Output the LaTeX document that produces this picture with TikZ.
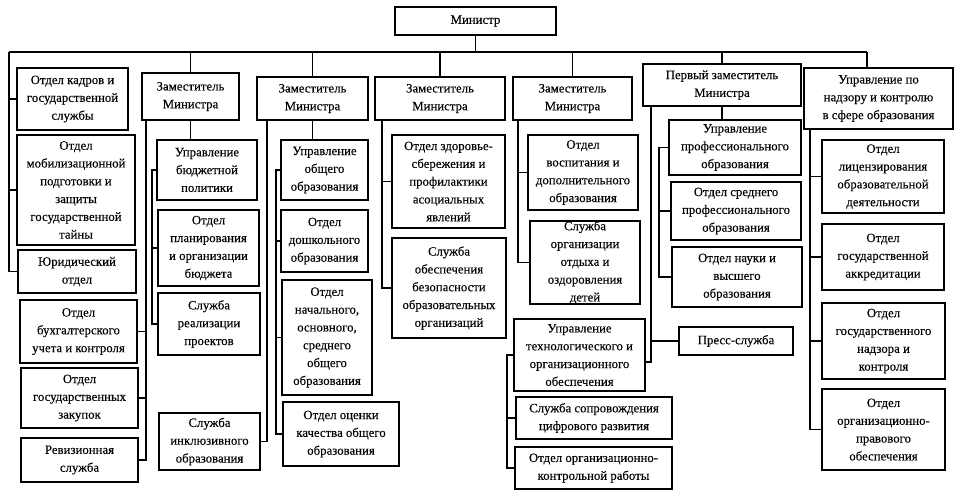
\documentclass[tikz,border=0pt]{standalone}
\usepackage{fontspec}
\setmainfont{Liberation Serif}
\newfontfamily\boxfont{Liberation Serif}[FakeBold=0.18]
\tikzset{
  box/.style={draw, line width=1.3pt, align=center, inner sep=0pt, outer sep=0pt,
    font={\boxfont\fontsize{12.8pt}{17.8pt}\selectfont}},
  conn/.style={line width=1.1pt}
}
\newcommand\bx[6]{\node[box, minimum width={(#4-#2)*1pt}, minimum height={(#5-#3)*1pt}] (#1) at ({(#2+#4)/2},{(#3+#5)/2}) {#6};}
\begin{document}
\begin{tikzpicture}[x=1pt,y=-1pt]
\useasboundingbox (0,0) rectangle (956,498);
% boxes
\bx{min}{395}{7}{556}{35}{Министр}
\bx{kadr}{17}{68}{128}{130}{Отдел кадров и\\государственной\\службы}
\bx{mob}{17}{135}{135}{245}{Отдел\\мобилизационной\\подготовки и\\защиты\\государственной\\тайны}
\bx{yur}{18}{250}{136}{293}{Юридический\\отдел}
\bx{buh}{20}{300}{137}{363}{Отдел\\бухгалтерского\\учета и контроля}
\bx{zak}{21}{368}{138}{428}{Отдел\\государственных\\закупок}
\bx{rev}{21}{438}{138}{482}{Ревизионная\\служба}
\bx{d1}{142}{73}{239}{120}{Заместитель\\Министра}
\bx{bud}{157}{140}{257}{200}{Управление\\бюджетной\\политики}
\bx{plan}{158}{210}{259}{286}{Отдел\\планирования\\и организации\\бюджета}
\bx{real}{158}{293}{260}{355}{Служба\\реализации\\проектов}
\bx{inkl}{159}{413}{260}{470}{Служба\\инклюзивного\\образования}
\bx{d2}{257}{77}{368}{120}{Заместитель\\Министра}
\bx{obsh}{281}{140}{368}{200}{Управление\\общего\\образования}
\bx{dosh}{281}{210}{368}{272}{Отдел\\дошкольного\\образования}
\bx{nach}{282}{280}{372}{395}{Отдел\\начального,\\основного,\\среднего\\общего\\образования}
\bx{ocen}{283}{402}{399}{466}{Отдел оценки\\качества общего\\образования}
\bx{d3}{375}{77}{505}{120}{Заместитель\\Министра}
\bx{zdor}{392}{135}{505}{228}{Отдел здоровье-\\сбережения и\\профилактики\\асоциальных\\явлений}
\bx{bez}{392}{238}{506}{338}{Служба\\обеспечения\\безопасности\\образовательных\\организаций}
\bx{d4}{513}{77}{632}{120}{Заместитель\\Министра}
\bx{vosp}{528}{135}{638}{210}{Отдел\\воспитания и\\дополнительного\\образования}
\bx{otd}{530}{221}{640}{304}{Служба\\организации\\отдыха и\\оздоровления\\детей}
\bx{fd}{643}{64}{801}{106}{Первый заместитель\\Министра}
\bx{prof}{669}{120}{801}{175}{Управление\\профессионального\\образования}
\bx{sred}{671}{182}{801}{240}{Отдел среднего\\профессионального\\образования}
\bx{nauk}{672}{247}{802}{307}{Отдел науки и\\высшего\\образования}
\bx{press}{679}{327}{793}{355}{Пресс-служба}
\bx{tech}{514}{319}{645}{391}{Управление\\технологического и\\организационного\\обеспечения}
\bx{sopr}{516}{397}{672}{439}{Служба сопровождения\\цифрового развития}
\bx{kontr}{515}{447}{672}{489}{Отдел организационно-\\контрольной работы}
\bx{nadz}{804}{68}{953}{129}{Управление по\\надзору и контролю\\в сфере образования}
\bx{lic}{822}{140}{944}{213}{Отдел\\лицензирования\\образовательной\\деятельности}
\bx{akk}{822}{224}{944}{290}{Отдел\\государственной\\аккредитации}
\bx{nadk}{822}{303}{945}{379}{Отдел\\государственного\\надзора и\\контроля}
\bx{prav}{822}{389}{945}{470}{Отдел\\организационно-\\правового\\обеспечения}
% coordinates
\coordinate (busL) at (9,52);
\coordinate (busR) at (867,52);
\coordinate (d1v) at (146,120);
\coordinate (d2v) at (267,120);
\coordinate (d3v) at (382,120);
\coordinate (d4v) at (518,120);
\coordinate (fdv) at (651,106);
\coordinate (nzv) at (810,129);
\coordinate (br1) at (152,0);
\coordinate (br2) at (276,0);
\coordinate (brf) at (659,0);
\coordinate (brt) at (507,0);
% top bus
\draw[conn] (busL) -- (busR);
\draw[conn] (min.south) -- (min.south |- busL);
\draw[conn] (d1.north) -- (d1.north |- busL);
\draw[conn] (d2.north) -- (d2.north |- busL);
\draw[conn] (d3.north) -- (d3.north |- busL);
\draw[conn] (d4.north) -- (d4.north |- busL);
\draw[conn] (fd.north) -- (fd.north |- busL);
\draw[conn] (busR) -- (busR |- nadz.north);
% left column
\draw[conn] (busL) |- (yur.west);
\draw[conn] (kadr.west -| busL) -- (kadr.west);
\draw[conn] (mob.west -| busL) -- (mob.west);
% deputy 1
\draw[conn] (d1v) |- (rev.east);
\draw[conn] (buh.east) -- (buh.east -| d1v);
\draw[conn] (zak.east) -- (zak.east -| d1v);
\draw[conn] (d1.south) -- (d1.south |- bud.north);
\draw[conn] (bud.west) -- (bud.west -| br1) |- (real.west);
\draw[conn] (plan.west) -- (plan.west -| br1);
% deputy 2
\draw[conn] (d2v) |- (inkl.east);
\draw[conn] (d2.south) -- (d2.south |- obsh.north);
\draw[conn] (obsh.west) -- (obsh.west -| br2) |- (ocen.west);
\draw[conn] (dosh.west) -- (dosh.west -| br2);
\draw[conn] (nach.west) -- (nach.west -| br2);
% deputy 3
\draw[conn] (d3v) |- (bez.west);
\draw[conn] (zdor.west) -- (zdor.west -| d3v);
% deputy 4
\draw[conn] (d4v) |- (otd.west);
\draw[conn] (vosp.west) -- (vosp.west -| d4v);
% first deputy
\draw[conn] (fd.south) -- (fd.south |- prof.north);
\draw[conn] (fdv) |- ([yshift=-7pt]tech.east);
\draw[conn] (press.west) -- (press.west -| fdv);
\draw[conn] (prof.west) -- (prof.west -| brf) |- (nauk.west);
\draw[conn] (sred.west) -- (sred.west -| brf);
\draw[conn] (tech.west) -- (tech.west -| brt) |- (kontr.west);
\draw[conn] (sopr.west) -- (sopr.west -| brt);
% nadzor
\draw[conn] (nzv) |- (prav.west);
\draw[conn] (lic.west) -- (lic.west -| nzv);
\draw[conn] (akk.west) -- (akk.west -| nzv);
\draw[conn] (nadk.west) -- (nadk.west -| nzv);
\end{tikzpicture}
\end{document}
